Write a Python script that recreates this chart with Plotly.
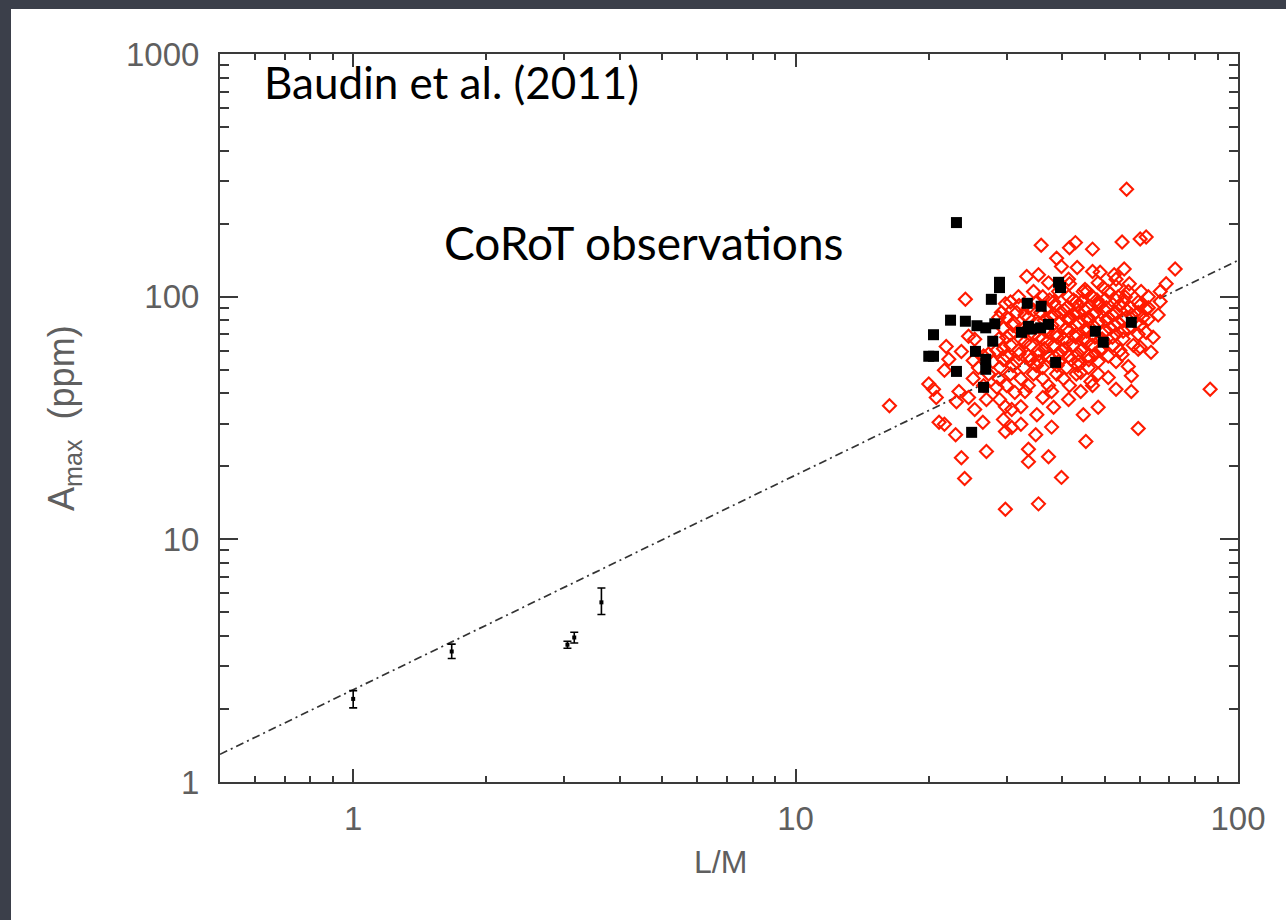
import plotly.graph_objects as go

# ---- data ----
sun_lm = [1.0, 1.67, 3.05, 3.16, 3.64]
sun_amax = [2.2, 3.45, 3.68, 3.94, 5.5]
sun_err_plus = [0.18, 0.25, 0.12, 0.2, 0.8]
sun_err_minus = [0.18, 0.22, 0.12, 0.2, 0.6]

fit_lm = [0.5, 100.0]
fit_amax = [1.30, 141.0]

red_lm = [56, 35.9, 42.9, 41.6, 46.9, 54.7, 60.1, 62.0, 38.9, 43.3, 46.9, 48.8, 52.5, 55.3, 33.3,
          39.9, 72.1, 68.8, 66.7, 60.4, 24.2, 29.8, 29.2, 66.7, 62.0, 60.1, 63.6, 21.9, 22.2, 21.7,
          20.0, 20.5, 20.8, 16.3, 57.4, 57.4, 86.5, 59.5, 45.3, 48.3, 44.7, 37.9, 34.9, 33.6, 33.6,
          37.3, 39.9, 27.0, 23.7, 24.1, 23.0, 21.1, 21.7, 29.8, 30.8, 32.3, 26.5, 25.4, 35.1, 29.8,
          35.4, 38.3, 41.4, 44.1, 46.5, 44.1, 37.9, 50.9, 56.5, 59.5, 54.7, 23.4, 24.6, 23.1, 27.0,
          28.9, 29.8, 30.8, 32.3, 31.3, 33.0, 36.2, 28.5, 24.6, 25.4, 23.7, 25.2, 41.6, 45.1, 49.6,
          53.0, 56.8, 50.1, 55.6, 44.4, 27.3, 28.8,
          34.5, 39.3, 44.7, 50.9, 56.5,
          31.9, 36.2, 41.4, 46.9, 53.6, 62.7,
          30.6, 35.1, 38.3, 43.1, 48.3, 55.0, 59.5,
          33.6, 36.9, 41.0, 45.6, 50.4, 57.1, 62.7,
          31.6, 35.8, 39.9, 43.6, 47.6, 53.0, 59.5,
          30.0, 33.6, 37.7, 41.4, 45.9, 50.9, 55.9, 61.0,
          31.1, 35.4, 39.3, 43.6, 48.3, 53.6, 58.9,
          29.5, 32.8, 36.9, 41.0, 45.6, 51.4, 56.5,
          30.6, 34.5, 38.9, 43.1, 46.9, 53.0, 59.5,
          28.8, 32.3, 36.2, 40.3, 44.7, 49.3, 55.0,
          30.6, 34.0, 38.3, 42.4, 46.9, 52.2, 58.0,
          28.5, 31.9, 35.4, 39.9, 44.1, 48.8, 54.1,
          26.6, 30.0, 33.6, 37.3, 41.4, 45.9, 50.9,
          27.9, 31.6, 35.4, 39.3, 43.6, 48.3, 53.0,
          25.9, 29.0, 32.8, 36.2, 41.0, 45.9,
          27.3, 30.6, 34.5, 38.9, 43.1, 48.3,
          25.2, 28.8, 32.3, 36.2, 40.3,
          26.6, 30.0, 33.6, 37.3, 41.6, 46.9,
          37.3, 41.4, 48.3, 53.0, 35.4, 45.6, 66.0, 64.3, 62.7, 62.0, 53.0, 29.5,
          37.5, 42.5, 48.0, 53.0,
          32.0, 38.5, 43.5, 48.5, 54.0, 60.0,
          34.5, 40.5, 45.0, 50.0, 56.0,
          33.0, 38.5, 42.5, 47.0, 52.0, 57.5,
          36.5, 41.5, 46.0, 50.5, 55.0,
          31.0, 38.0, 43.0, 47.0, 52.5, 60.0,
          33.0, 37.0, 41.5, 45.5, 50.0, 55.0,
          30.0, 35.5, 39.0, 43.0, 47.5, 52.0,
          33.0, 37.0, 41.0, 45.5, 50.0,
          29.5, 36.5, 40.5, 44.5, 49.0,
          32.0, 35.5, 39.5, 43.5, 47.5,
          29.5, 34.0, 38.0, 42.0, 46.0,
          31.0, 35.0, 39.0, 43.5]
red_amax = [277, 163, 167, 159, 157, 168, 173, 176, 144, 132, 127, 126, 123, 130, 121,
            133, 130, 113, 105, 105, 97.6, 93.5, 86, 95.5, 71.2, 61.9, 59, 62.3, 55.2, 49.7,
            43.7, 41.5, 38.4, 35.5, 47.2, 40.7, 41.5, 28.6, 25.3, 35, 32.6, 29, 27, 23.5, 20.9,
            21.9, 18.0, 23, 21.7, 17.8, 27, 30.4, 29.8, 27.8, 28.9, 29.8, 30.4, 34.3, 32.6, 13.3,
            14.0, 35.0, 37.7, 40.7, 44.7, 48.7, 40.7, 46.4, 51.5, 60.7, 57.8, 40.7, 38.4, 36.9, 37.7,
            37.7, 35.2, 34.3, 35.2, 40.3, 40.7, 38.4, 42.3, 68.7, 66.7, 59.4, 54.6, 113, 107, 109,
            110, 113, 97.6, 99.6, 95.5, 58, 82,
            105, 105, 105, 105, 105,
            100, 100, 100, 100, 100, 100,
            95, 95, 95, 95, 95, 95, 95,
            90, 90, 90, 90, 90, 90, 90,
            86, 86, 86, 86, 86, 86, 86,
            82, 82, 82, 82, 82, 82, 82, 82,
            78, 78, 78, 78, 78, 78, 78,
            74, 74, 74, 74, 74, 74, 74,
            70, 70, 70, 70, 70, 70, 70,
            67, 67, 67, 67, 67, 67, 67,
            63, 63, 63, 63, 63, 63, 63,
            60, 60, 60, 60, 60, 60, 60,
            57, 57, 57, 57, 57, 57, 57,
            54, 54, 54, 54, 54, 54, 54,
            51, 51, 51, 51, 51, 51,
            48, 48, 48, 48, 48, 48,
            46, 46, 46, 46, 46,
            43, 43, 43, 43, 43, 43,
            114, 118, 114, 118, 123, 105, 84, 68, 80.7, 88.7, 41.5, 31.2,
            97, 97, 97, 97,
            92, 92, 92, 92, 92, 92,
            88, 88, 88, 88, 88,
            84, 84, 84, 84, 84, 84,
            80, 80, 80, 80, 80,
            76, 76, 76, 76, 76, 76,
            72, 72, 72, 72, 72, 72,
            68, 68, 68, 68, 68, 68,
            65, 65, 65, 65, 65,
            61, 61, 61, 61, 61,
            58, 58, 58, 58, 58,
            55, 55, 55, 55, 55,
            52, 52, 52, 52]

black_lm = [23.1, 28.9, 28.9, 27.7, 33.4, 35.9, 39.3, 39.7, 22.4, 24.2, 25.7, 26.9, 28.2, 20.5,
            20.0, 20.5, 27.9, 25.5, 26.9, 26.9, 23.1, 26.6, 25.0, 32.4, 34.1, 35.8, 37.3, 33.6,
            38.7, 47.6, 49.6, 57.4]
black_amax = [202, 114.6, 109, 97.5, 93.9, 91.3, 114.6, 109, 80, 79.2, 75.9, 74.4, 77.3, 69.7,
              56.8, 56.8, 65.5, 59.5, 55.2, 50.2, 49.2, 42.3, 27.6, 71.3, 73.5, 74.4, 76.9, 75.5,
              53.6, 72, 64.9, 78.4]

x_major = [1, 10, 100]
x_labels = ["1", "10", "100"]
x_minor = [0.6, 0.7, 0.8, 0.9, 2, 3, 4, 5, 6, 7, 8, 9, 20, 30, 40, 50, 60, 70, 80, 90]
y_major = [1, 10, 100, 1000]
y_labels = ["1", "10", "100", "1000"]
y_minor = [2, 3, 4, 5, 6, 7, 8, 9, 20, 30, 40, 50, 60, 70, 80, 90,
           200, 300, 400, 500, 600, 700, 800, 900]

AX = "#3a3a3a"

fig = go.Figure()

fig.add_trace(go.Scatter(
    x=fit_lm, y=fit_amax, mode="lines",
    line=dict(color="#333333", width=1.7, dash="8px,4px,2px,4px"),
    hoverinfo="skip", showlegend=False))

fig.add_trace(go.Scatter(
    x=red_lm, y=red_amax, mode="markers",
    marker=dict(symbol="diamond-open", size=10, color="#ff1a00", line=dict(width=2.1, color="#ff1a00")),
    showlegend=False))

fig.add_trace(go.Scatter(
    x=black_lm, y=black_amax, mode="markers",
    marker=dict(symbol="square", size=11, color="black"),
    showlegend=False))

fig.add_trace(go.Scatter(
    x=sun_lm, y=sun_amax, mode="markers",
    marker=dict(symbol="square", size=4, color="black"),
    error_y=dict(type="data", symmetric=False, array=sun_err_plus, arrayminus=sun_err_minus,
                 color="black", thickness=1.6, width=4),
    showlegend=False))

W, H = 1286, 920
L, R, T, B = 220, 1238, 54, 782
pw, ph = R - L, B - T

def px(xp):
    return (xp - L) / pw

def py(yp):
    return (B - yp) / ph

tickfont = dict(family="Liberation Sans", size=33, color="#5f5f5f")

fig.update_layout(
    width=W, height=H,
    margin=dict(l=L, r=W - R, t=T, b=H - B, pad=0),
    paper_bgcolor="#3b3f4a",
    plot_bgcolor="white",
    shapes=[dict(type="rect", xref="paper", yref="paper", layer="below",
                 x0=px(11), x1=px(1290), y0=py(925), y1=py(9),
                 fillcolor="white", line=dict(width=0))],
    xaxis=dict(type="log", range=[-0.30103, 2.0], showgrid=False, zeroline=False,
               tickmode="array", tickvals=x_major, ticktext=x_labels,
               ticks="inside", ticklen=13, tickwidth=1.6, tickcolor=AX,
               showline=True, linewidth=2, linecolor=AX, mirror="allticks",
               tickfont=tickfont, ticklabelstandoff=6,
               minor=dict(tickmode="array", tickvals=x_minor, ticks="inside",
                          ticklen=6, tickwidth=1.6, tickcolor=AX, showgrid=False)),
    yaxis=dict(type="log", range=[0, 3.0], showgrid=False, zeroline=False,
               tickmode="array", tickvals=y_major, ticktext=y_labels,
               ticks="inside", ticklen=18, tickwidth=1.6, tickcolor=AX,
               showline=True, linewidth=2, linecolor=AX, mirror="allticks",
               tickfont=tickfont, ticklabelstandoff=12,
               minor=dict(tickmode="array", tickvals=y_minor, ticks="inside",
                          ticklen=9, tickwidth=1.6, tickcolor=AX, showgrid=False)),
    annotations=[
        dict(text="Baudin et al. (2011)", xref="paper", yref="paper",
             x=px(262), y=py(82), xanchor="left", yanchor="middle", showarrow=False,
             font=dict(family="Lato", size=44, color="black")),
        dict(text="CoRoT observations", xref="paper", yref="paper",
             x=px(442), y=py(243), xanchor="left", yanchor="middle", showarrow=False,
             font=dict(family="Lato", size=46, color="black")),
        dict(text="L/M", xref="paper", yref="paper",
             x=px(720), y=py(862), xanchor="center", yanchor="middle", showarrow=False,
             font=dict(family="Liberation Sans", size=32, color="#5f5f5f")),
        dict(text="A<sub>max</sub>  (ppm)", xref="paper", yref="paper", textangle=-90,
             x=px(64), y=py(418), xanchor="center", yanchor="middle", showarrow=False,
             font=dict(family="Liberation Sans", size=36, color="#5f5f5f")),
    ],
)

fig.write_html("out.html")
